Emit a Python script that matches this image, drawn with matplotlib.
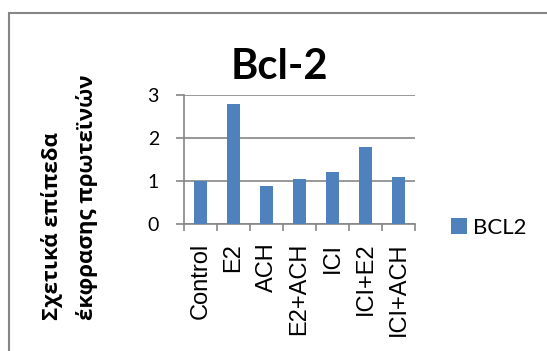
import matplotlib
matplotlib.use("Agg")
import matplotlib.pyplot as plt
from matplotlib.patches import Rectangle

categories = ["Control", "E2", "ACH", "E2+ACH", "ICI", "ICI+E2", "ICI+ACH"]
bcl2_values = [1.0, 2.79, 0.89, 1.04, 1.2, 1.8, 1.09]
series_name = "BCL2"
title = "Bcl-2"
ylabel_lines = ["Σχετικά επίπεδα", "έκφρασης πρωτεϊνών"]
yticks = [0, 1, 2, 3]

plt.rcParams["font.family"] = ["Open Sans", "Noto Sans", "DejaVu Sans"]
ARIAL = ["Liberation Sans", "DejaVu Sans"]
CAL = ["Lato", "Open Sans", "DejaVu Sans"]

W, H = 547, 351
fig = plt.figure(figsize=(W / 100, H / 100), dpi=100)
ax = fig.add_axes([184 / W, 1 - 224 / H, (415 - 184) / W, (224 - 95) / H])

grey = "#868686"
x = range(len(categories))
bars = ax.bar(x, bcl2_values, width=0.4, color="#4F81BD", label=series_name, zorder=3)
ax.set_xlim(-0.5, len(categories) - 0.5)
ax.set_ylim(0, 3)
ax.set_yticks(yticks)
ax.set_yticklabels([str(t) for t in yticks], fontsize=14, family=CAL)
ax.set_xticks([i + 0.5 for i in range(-1, len(categories))], minor=False)
ax.set_xticklabels([])
ax.set_xticks(list(x), minor=True)
ax.set_xticklabels(categories, minor=True, rotation=90, fontsize=17, family=ARIAL,
                   va="top")
ax.tick_params(axis="x", which="major", length=5, color=grey, width=1.2, direction="out")
ax.tick_params(axis="x", which="minor", length=0, pad=13.5)
ax.tick_params(axis="y", length=6, color=grey, width=1.2, pad=12)
ax.grid(axis="y", color=grey, linewidth=1.2, zorder=0)
for s in ["top", "right"]:
    ax.spines[s].set_visible(False)
for s in ["left", "bottom"]:
    ax.spines[s].set_color(grey)
    ax.spines[s].set_linewidth(1.2)

fig.text(52 / W, 1 - 320 / H, ylabel_lines[0], rotation=90, fontsize=16,
         fontweight="bold", ha="center", va="bottom")
fig.text(87 / W, 1 - 320 / H, ylabel_lines[1], rotation=90, fontsize=16,
         fontweight="bold", ha="center", va="bottom")

fig.text(279 / W, 1 - 67 / H, title, fontsize=30, fontweight="bold",
         ha="center", va="center", family=CAL)

fig.legend(handles=[bars], labels=[series_name], loc="center left",
           bbox_to_anchor=(431 / W, 1 - 228 / H), frameon=False,
           prop={"family": CAL, "size": 16},
           handlelength=0.7, handleheight=0.7, handletextpad=0.3)

fig.patches.append(Rectangle((8.5 / W, -0.2), 1.2, 1 - 12.5 / H + 0.2,
                             transform=fig.transFigure, fill=False,
                             edgecolor=grey, linewidth=1.5))

fig.savefig("out.png", dpi=100, facecolor="white")
